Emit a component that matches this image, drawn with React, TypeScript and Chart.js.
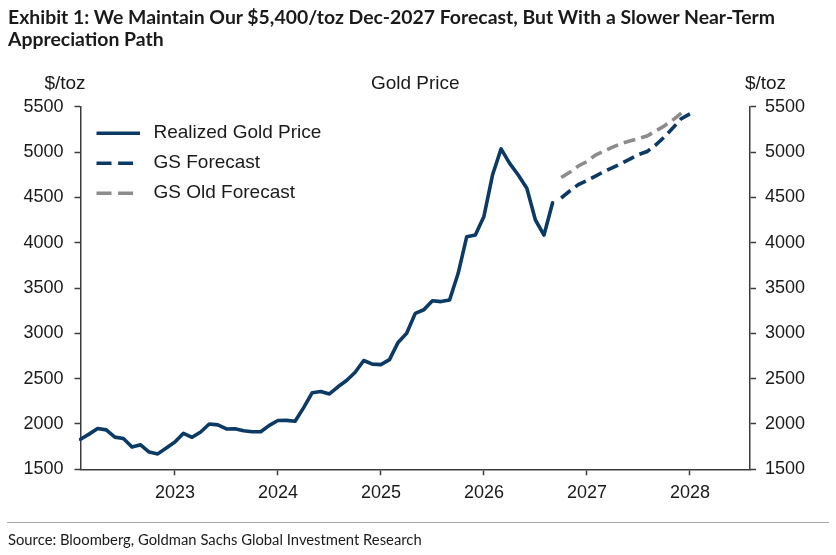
import React, { useEffect, useRef } from 'react';
import { Chart, registerables } from 'chart.js';

Chart.register(...registerables);

// ---- Data ----
const months: string[] = [
  '2022-02', '2022-03', '2022-04', '2022-05', '2022-06', '2022-07', '2022-08', '2022-09', '2022-10', '2022-11', '2022-12',
  '2023-01', '2023-02', '2023-03', '2023-04', '2023-05', '2023-06', '2023-07', '2023-08', '2023-09', '2023-10', '2023-11', '2023-12',
  '2024-01', '2024-02', '2024-03', '2024-04', '2024-05', '2024-06', '2024-07', '2024-08', '2024-09', '2024-10', '2024-11', '2024-12',
  '2025-01', '2025-02', '2025-03', '2025-04', '2025-05', '2025-06', '2025-07', '2025-08', '2025-09', '2025-10', '2025-11', '2025-12',
  '2026-01', '2026-02', '2026-03', '2026-04', '2026-05', '2026-06', '2026-07', '2026-08', '2026-09', '2026-10', '2026-11', '2026-12',
  '2027-01', '2027-02', '2027-03', '2027-04', '2027-05', '2027-06', '2027-07', '2027-08', '2027-09', '2027-10', '2027-11', '2027-12',
  '2028-01', '2028-02', '2028-03', '2028-04', '2028-05', '2028-06', '2028-07', '2028-08',
];

// Realized monthly gold price, starting at months[0]
const realized: number[] = [
  1831, 1888, 1950, 1935, 1855, 1840, 1745, 1770, 1690, 1670, 1735, 1800,
  1897, 1853, 1912, 2000, 1990, 1945, 1948, 1925, 1915, 1915, 1985, 2038,
  2040, 2030, 2180, 2345, 2358, 2331, 2410, 2480, 2570, 2700, 2660, 2655,
  2710, 2900, 3000, 3220, 3260, 3360, 3350, 3367, 3662, 4066, 4084, 4290,
  4746, 5035, 4875, 4746, 4600, 4250, 4084, 4440,
];

// GS forecast, starting at months[56]
const forecastStart = 56;
const gsForecast: number[] = [
  4493, 4570, 4641, 4685, 4735, 4785, 4829, 4873, 4922, 4972, 5005, 5077, 5165, 5264, 5369, 5420,
];

// GS old forecast, starting at months[56]
const gsOldForecast: number[] = [
  4718, 4776, 4846, 4895, 4967, 5011, 5055, 5094, 5121, 5149, 5176, 5231, 5287, 5353, 5430,
];

const yTicksMin = 1500;
const yTicksMax = 5500;
const yTickStep = 500;

const seriesLabels = ['Realized Gold Price', 'GS Forecast', 'GS Old Forecast'];
const chartTitle = 'Gold Price';
const axisUnit = '$/toz';
const exhibitTitle1 = 'Exhibit 1: We Maintain Our $5,400/toz Dec-2027 Forecast, But With a Slower Near-Term';
const exhibitTitle2 = 'Appreciation Path';
const sourceText = 'Source: Bloomberg, Goldman Sachs Global Investment Research';

// ---- Style ----
const NAVY = '#0b3a64';
const GREY = '#8c8c8c';
const AXIS = '#3c3c3c';
const TEXT = '#1a1a1a';
const FONT = '"Liberation Sans", Arial, Helvetica, sans-serif';

function pad(values: number[], start: number, total: number): (number | null)[] {
  const out: (number | null)[] = [];
  for (let i = 0; i < total; i++) {
    const j = i - start;
    out.push(j >= 0 && j < values.length ? values[j] : null);
  }
  return out;
}

const overlayPlugin = {
  id: 'overlay',
  afterDraw(chart: any) {
    const { ctx, chartArea, scales } = chart;
    ctx.save();
    ctx.fillStyle = TEXT;
    ctx.font = `19px ${FONT}`;
    ctx.textBaseline = 'middle';
    ctx.textAlign = 'center';
    const ty = chartArea.top - 23;
    ctx.fillText(axisUnit, scales.y.right - 15.5, ty);
    ctx.fillText(axisUnit, scales.y2.left + 15.5, ty);
    ctx.fillText(chartTitle, (chartArea.left + chartArea.right) / 2, ty);

    // legend
    const lx = chartArea.left + 16;
    const ly = chartArea.top + 26.5;
    chart.data.datasets.forEach((ds: any, i: number) => {
      const y = ly + i * 30;
      ctx.strokeStyle = ds.borderColor;
      ctx.lineWidth = 3.5;
      ctx.lineCap = 'butt';
      if (ds.borderDash && ds.borderDash.length) {
        ctx.setLineDash([15, 6.6]);
        ctx.beginPath();
        ctx.moveTo(lx, y);
        ctx.lineTo(lx + 37, y);
        ctx.stroke();
      } else {
        ctx.setLineDash([]);
        ctx.beginPath();
        ctx.moveTo(lx, y);
        ctx.lineTo(lx + 43.5, y);
        ctx.stroke();
      }
      ctx.setLineDash([]);
      ctx.textAlign = 'left';
      ctx.fillStyle = TEXT;
      ctx.fillText(ds.label, lx + 57, y);
    });
    ctx.restore();
  },
};

export default function App() {
  const canvasRef = useRef<HTMLCanvasElement | null>(null);

  useEffect(() => {
    if (!canvasRef.current) return;
    const n = months.length;
    const chart = new Chart(canvasRef.current, {
      type: 'line',
      data: {
        labels: months,
        datasets: [
          {
            label: seriesLabels[0],
            data: pad(realized, 0, n),
            borderColor: NAVY,
            borderWidth: 3.6,
            pointRadius: 0,
            tension: 0,
            borderJoinStyle: 'round',
            borderCapStyle: 'round',
            spanGaps: false,
            yAxisID: 'y',
          },
          {
            label: seriesLabels[1],
            data: pad(gsForecast, forecastStart, n),
            borderColor: NAVY,
            borderWidth: 3.6,
            borderDash: [12, 6],
            pointRadius: 0,
            tension: 0,
            borderCapStyle: 'butt',
            yAxisID: 'y',
          },
          {
            label: seriesLabels[2],
            data: pad(gsOldForecast, forecastStart, n),
            borderColor: GREY,
            borderWidth: 3.6,
            borderDash: [12, 6],
            pointRadius: 0,
            tension: 0,
            borderCapStyle: 'butt',
            yAxisID: 'y',
          },
        ],
      },
      options: {
        animation: false,
        responsive: true,
        maintainAspectRatio: false,
        layout: { padding: { top: 106.7, left: 0, right: 0, bottom: 45.7 } },
        plugins: {
          legend: { display: false },
          title: { display: false },
          tooltip: { enabled: false },
        },
        events: [],
        scales: {
          x: {
            type: 'category',
            offset: false,
            afterFit: (scale: any) => {
              scale.height = 40;
            },
            grid: {
              drawOnChartArea: false,
              drawTicks: true,
              tickLength: 6,
              tickWidth: 1.5,
              tickColor: (ctx: any) =>
                months[ctx.index] && months[ctx.index].endsWith('-01') ? AXIS : 'rgba(0,0,0,0)',
              color: 'rgba(0,0,0,0)',
            },
            border: { display: true, color: AXIS, width: 1.5 },
            ticks: {
              autoSkip: false,
              maxRotation: 0,
              minRotation: 0,
              padding: 7,
              color: TEXT,
              font: { family: FONT, size: 18 },
              callback: (_v: any, i: number) =>
                months[i].endsWith('-01') ? months[i].slice(0, 4) : '',
            },
          },
          y: {
            type: 'linear',
            position: 'left',
            min: yTicksMin,
            max: yTicksMax,
            afterFit: (scale: any) => {
              scale.width = 80.5;
            },
            grid: {
              drawOnChartArea: false,
              drawTicks: true,
              tickLength: 6,
              tickWidth: 1.5,
              tickColor: AXIS,
            },
            border: { display: true, color: AXIS, width: 1.5 },
            ticks: {
              stepSize: yTickStep,
              padding: 11,
              color: TEXT,
              font: { family: FONT, size: 18 },
              callback: (v: any) => String(v),
            },
          },
          y2: {
            type: 'linear',
            position: 'right',
            min: yTicksMin,
            max: yTicksMax,
            afterFit: (scale: any) => {
              scale.width = 86;
            },
            grid: {
              drawOnChartArea: false,
              drawTicks: true,
              tickLength: 6,
              tickWidth: 1.5,
              tickColor: AXIS,
            },
            border: { display: true, color: AXIS, width: 1.5 },
            ticks: {
              stepSize: yTickStep,
              padding: 9,
              color: TEXT,
              font: { family: FONT, size: 18 },
              callback: (v: any) => String(v),
            },
          },
        },
      },
      plugins: [overlayPlugin],
    } as any);
    return () => chart.destroy();
  }, []);

  return (
    <div style={{ position: 'absolute', left: 0, top: 0, width: 836, height: 555, background: '#fff', overflow: 'hidden' }}>
      <div style={{ position: 'absolute', left: 0, top: 0, width: 836, height: 555 }}>
        <canvas ref={canvasRef} />
      </div>
      <div
        style={{
          position: 'absolute',
          left: 8,
          top: 6,
          font: '700 19.4px Lato, "Open Sans", sans-serif',
          lineHeight: '22px',
          color: TEXT,
          whiteSpace: 'nowrap',
        }}
      >
        {exhibitTitle1}
        <br />
        {exhibitTitle2}
      </div>
      <div style={{ position: 'absolute', left: 7, top: 521.5, width: 822, borderTop: '1.5px solid #aaaaaa' }} />
      <div
        style={{
          position: 'absolute',
          left: 8,
          top: 530.5,
          font: '400 14.8px Lato, "Open Sans", sans-serif',
          lineHeight: '17px',
          color: TEXT,
          whiteSpace: 'nowrap',
        }}
      >
        {sourceText}
      </div>
    </div>
  );
}
